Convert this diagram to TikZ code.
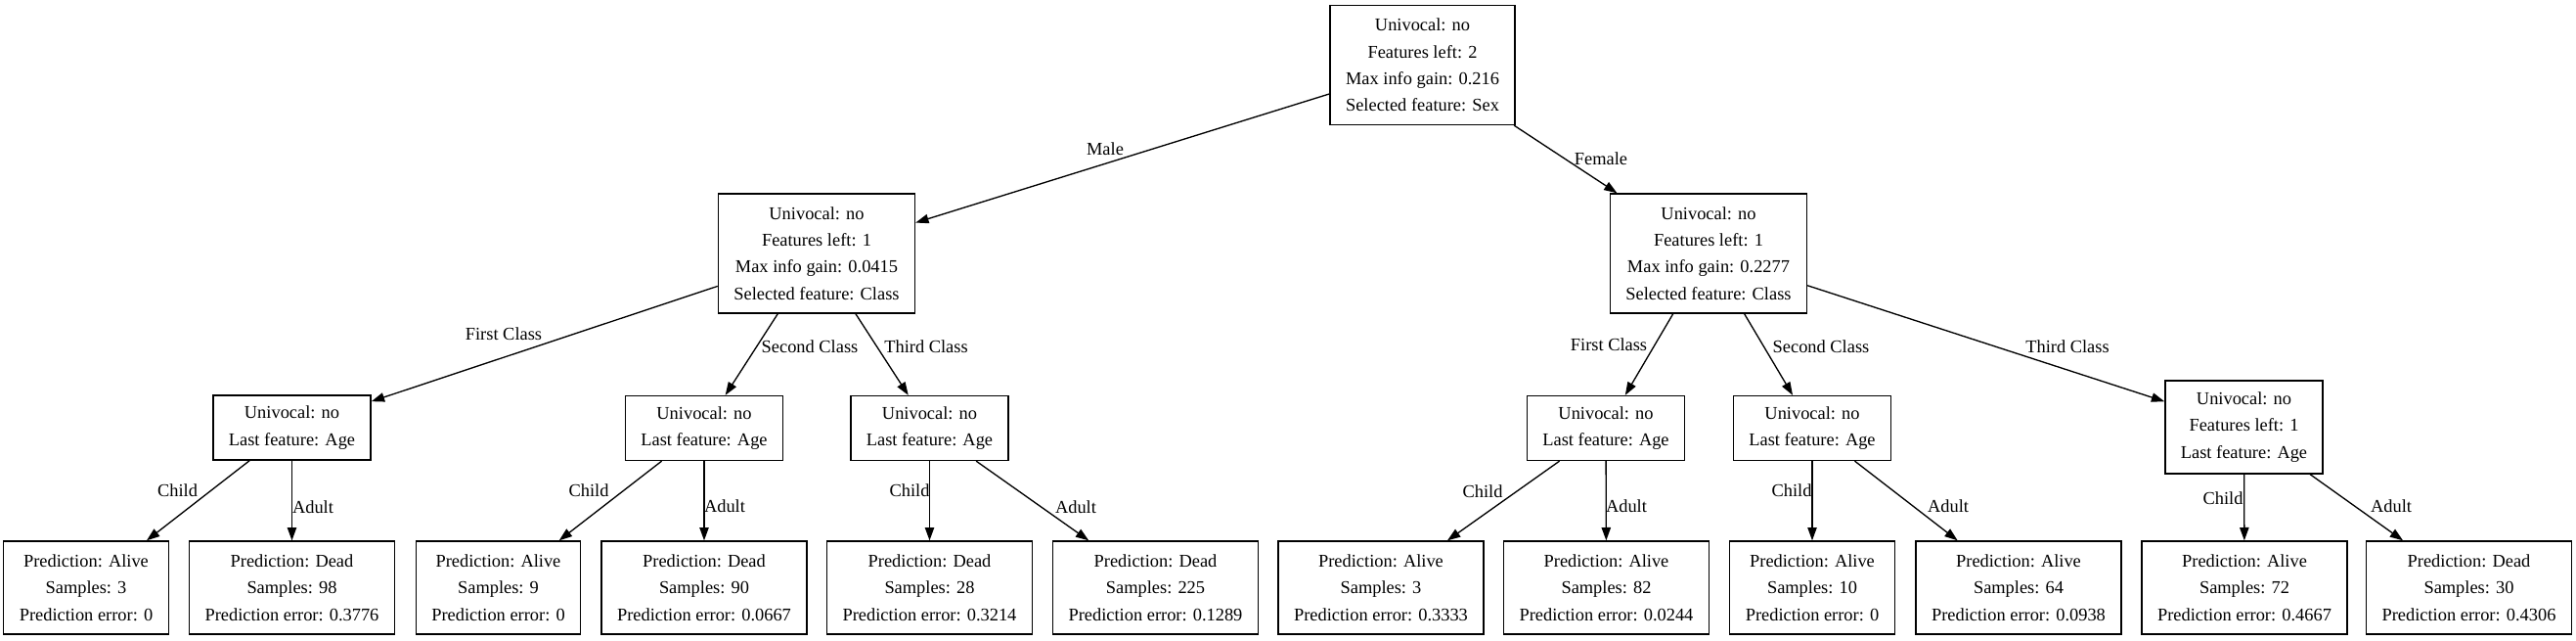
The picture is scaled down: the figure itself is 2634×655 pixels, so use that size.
\documentclass[tikz,border=0pt]{standalone}
\usepackage{fontspec}
\setmainfont{Liberation Serif}
\usetikzlibrary{arrows.meta}
\newcommand{\treefont}{\fontsize{13.8pt}{20.6pt}\selectfont}
\newcommand{\pred}[3]{Prediction: #1\\Samples: #2\\Prediction error: #3}
\tikzset{
  split/.style={draw, line width=1pt, align=center, inner xsep=12pt, inner ysep=0pt, font=\treefont},
  split2/.style={split, minimum height=49.5pt},
  split3/.style={split, minimum height=71.25pt},
  split4/.style={split, minimum height=91.5pt},
  leaf/.style={split3},
  edge/.style={-{Triangle[length=10pt, width=7pt]}, line width=1pt},
  elab/.style={font=\treefont, inner sep=0pt},
}

\begin{document}
\begin{tikzpicture}[x={(0.75pt,0)}, y={(0,-0.75pt)}]
  \useasboundingbox[fill=white] (0,0) rectangle (2634,655);
  % root and first split
  \node[split4] (root) at (1454.5,66.5) {Univocal: no\\Features left: 2\\Max info gain: 0.216\\Selected feature: Sex};
  \node[split4] (male) at (835,259) {Univocal: no\\Features left: 1\\Max info gain: 0.0415\\Selected feature: Class};
  \node[split4] (female) at (1747,259) {Univocal: no\\Features left: 1\\Max info gain: 0.2277\\Selected feature: Class};
  % class splits
  \node[split2] (m1) at (298.5,437) {Univocal: no\\Last feature: Age};
  \node[split2] (m2) at (720,437.5) {Univocal: no\\Last feature: Age};
  \node[split2] (m3) at (950.5,437.5) {Univocal: no\\Last feature: Age};
  \node[split2] (f1) at (1642,437.5) {Univocal: no\\Last feature: Age};
  \node[split2] (f2) at (1853,437.5) {Univocal: no\\Last feature: Age};
  \node[split3] (f3) at (2294.5,436.5) {Univocal: no\\Features left: 1\\Last feature: Age};
  % leaves
  \node[leaf] (a1) at (88,600.5) {\pred{Alive}{3}{0}};
  \node[leaf] (a2) at (298.5,600.5) {\pred{Dead}{98}{0.3776}};
  \node[leaf] (a3) at (509.5,600.5) {\pred{Alive}{9}{0}};
  \node[leaf] (a4) at (720,600.5) {\pred{Dead}{90}{0.0667}};
  \node[leaf] (a5) at (950.5,600.5) {\pred{Dead}{28}{0.3214}};
  \node[leaf] (a6) at (1181.5,600.5) {\pred{Dead}{225}{0.1289}};
  \node[leaf] (a7) at (1412,600.5) {\pred{Alive}{3}{0.3333}};
  \node[leaf] (a8) at (1642.5,600.5) {\pred{Alive}{82}{0.0244}};
  \node[leaf] (a9) at (1853,600.5) {\pred{Alive}{10}{0}};
  \node[leaf] (a10) at (2064,600.5) {\pred{Alive}{64}{0.0938}};
  \node[leaf] (a11) at (2295,600.5) {\pred{Alive}{72}{0.4667}};
  \node[leaf] (a12) at (2524.5,600.5) {\pred{Dead}{30}{0.4306}};
  % edges
  \draw[edge] (root) -- (male); \draw[edge] (root) -- (female);
  \draw[edge] (male) -- (m1); \draw[edge] (male) -- (m2); \draw[edge] (male) -- (m3);
  \draw[edge] (female) -- (f1); \draw[edge] (female) -- (f2); \draw[edge] (female) -- (f3);
  \draw[edge] (m1) -- (a1); \draw[edge] (m1) -- (a2); \draw[edge] (m2) -- (a3); \draw[edge] (m2) -- (a4);
  \draw[edge] (m3) -- (a5); \draw[edge] (m3) -- (a6); \draw[edge] (f1) -- (a7); \draw[edge] (f1) -- (a8);
  \draw[edge] (f2) -- (a9); \draw[edge] (f2) -- (a10); \draw[edge] (f3) -- (a11); \draw[edge] (f3) -- (a12);
  % edge labels
  \node[elab] (lmale) at (1130,152) {Male};
  \node[elab] (lfemale) at (1637,162) {Female};
  \node[elab] (lm1) at (515,341) {First Class};
  \node[elab] (lm2) at (828,354) {Second Class};
  \node[elab] (lm3) at (947,354) {Third Class};
  \node[elab] (lf1) at (1645,352) {First Class};
  \node[elab] (lf2) at (1862,354) {Second Class};
  \node[elab] (lf3) at (2114,354) {Third Class};
  \node[elab] (la1) at (181.5,501) {Child}; \node[elab] (la2) at (320,518) {Adult};
  \node[elab] (la3) at (602,501) {Child}; \node[elab] (la4) at (741,517) {Adult};
  \node[elab] (la5) at (930,501) {Child}; \node[elab] (la6) at (1100,518) {Adult};
  \node[elab] (la7) at (1516,502) {Child}; \node[elab] (la8) at (1663,517) {Adult};
  \node[elab] (la9) at (1832,501) {Child}; \node[elab] (la10) at (1992,517) {Adult};
  \node[elab] (la11) at (2273,509) {Child}; \node[elab] (la12) at (2445,517) {Adult};
\end{tikzpicture}
\end{document}
